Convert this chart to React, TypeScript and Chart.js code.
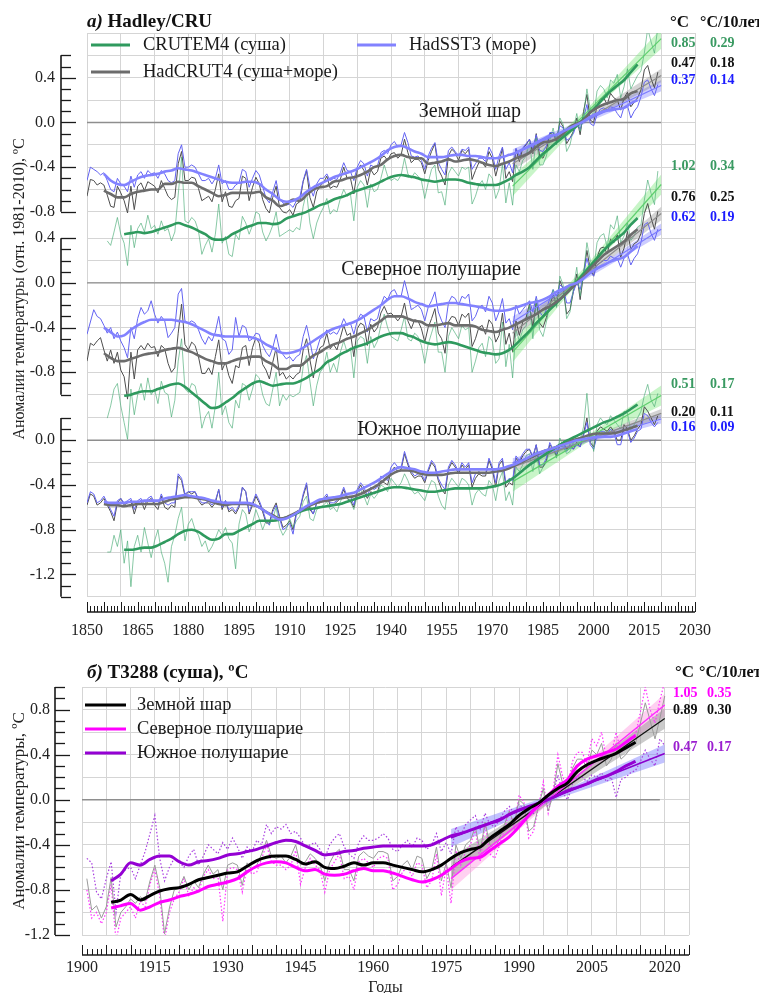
import React, { useEffect, useRef } from "react";
import { Chart, registerables } from "chart.js";

Chart.register(...registerables);

const SERIF = "'Liberation Serif', 'Times New Roman', serif";

/* ======================= DATA (hundredths of °C) ======================= */
/* a) Hadley/CRU, anomalies relative to 1981-2010 */
const HAD_START = 1850; // HadCRUT4, HadSST3 annual
const CRU_START = 1856; // CRUTEM4 annual
const SMOOTH_START = 1855; // smoothed HadCRUT4 / HadSST3
const SMOOTH_CRU_START = 1861; // smoothed CRUTEM4
const SMOOTH_STEP = 2;

const regionNamesA = ["Земной шар", "Северное полушарие", "Южное полушарие"];

// ---- Global ----
const globalHadCRUT4 = [
  -66,-51,-52,-56,-54,-56,-65,-75,-76,-57, -63,-70,-81,-57,-78,-57,-54,-61,-53,-55,
  -57,-63,-52,-59,-66,-69,-67,-37,-26,-52, -52,-49,-50,-59,-70,-68,-66,-71,-60,-46,
  -71,-62,-75,-76,-70,-68,-48,-50,-70,-58, -49,-55,-69,-77,-81,-67,-57,-76,-80,-81,
  -78,-83,-73,-71,-53,-43,-67,-76,-62,-57, -54,-48,-59,-57,-58,-51,-40,-50,-50,-64,
  -43,-38,-43,-56,-42,-47,-44,-32,-30,-34, -28,-27,-32,-29,-15,-27,-36,-33,-33,-36,
  -46,-34,-26,-19,-42,-48,-56,-30,-24,-27, -34,-25,-28,-24,-51,-43,-36,-36,-40,-26,
  -32,-48,-36,-23,-50,-44,-53,-24,-35,-23, -20,-15,-28,-10,-30,-32,-25,-10,-9,-17,
  1,-4,-19,-14,-8,4,-11,10,25,2, 0,15,21,22,16,26,22,20,11,22,
  27,14,18,22,29,47,51,39,31,45,
];
const globalHadSST3 = [
  -52,-40,-42,-44,-47,-45,-52,-60,-62,-50, -55,-57,-62,-48,-58,-47,-44,-50,-43,-46,
  -45,-50,-43,-46,-52,-54,-52,-28,-20,-40, -40,-38,-40,-46,-52,-52,-50,-55,-50,-38,
  -55,-52,-60,-60,-56,-54,-42,-44,-58,-50, -43,-47,-57,-68,-72,-62,-52,-68,-72,-74,
  -73,-76,-70,-67,-52,-42,-58,-66,-55,-50, -50,-46,-52,-50,-51,-45,-36,-43,-44,-52,
  -40,-34,-37,-48,-38,-40,-39,-27,-25,-28, -20,-17,-22,-20,-9,-18,-30,-31,-30,-34,
  -42,-30,-23,-18,-36,-42,-47,-25,-22,-26, -30,-24,-25,-22,-42,-37,-32,-32,-35,-22,
  -28,-42,-30,-22,-42,-36,-45,-23,-30,-23, -19,-15,-24,-11,-25,-26,-21,-9,-9,-15,
  -3,-5,-16,-14,-10,-1,-6,4,16,-1, -3,7,12,13,11,14,13,8,4,14,
  15,4,10,14,23,36,38,30,24,34,
];
const globalCRUTEM4 = [
  -106,-110,-98,-85,
  -100,-108,-128,-92,-112,-95,-90,-98,-83,-95, -92,-100,-88,-97,-95,-106,-98,-65,-31,-88,
  -90,-85,-88,-97,-118,-110,-104,-116,-100,-73, -108,-102,-118,-120,-100,-105,-84,-90,-100,-92,
  -80,-82,-98,-106,-100,-92,-80,-102,-100,-98, -96,-98,-94,-96,-75,-62,-90,-104,-90,-82,
  -76,-68,-82,-78,-80,-68,-60,-66,-64,-88, -58,-52,-56,-76,-55,-62,-60,-50,-38,-48,
  -52,-50,-52,-47,-32,-46,-50,-45,-48,-52, -68,-54,-42,-38,-63,-62,-74,-46,-40,-44,
  -48,-40,-42,-40,-73,-66,-56,-52,-60,-46, -50,-68,-60,-37,-72,-54,-74,-38,-44,-34,
  -30,-18,-42,-14,-38,-38,-30,-16,-5,-20, 4,-2,-26,-20,-6,8,-8,6,30,12,
  5,28,33,30,22,38,35,43,22,32, 48,30,36,42,46,62,84,72,62,85,
];
const globalHadCRUT4Smooth = [
  -61,-64,-67,-67,-64,-62,-61,-60,-60,-55, -55,-53,-54,-54,-57,-60,-63,-66,-65,-63,
  -63,-63,-63,-62,-67,-70,-75,-73,-69,-70, -65,-60,-58,-57,-53,-52,-50,-49,-47,-44,
  -40,-38,-33,-30,-29,-31,-32,-32,-37,-36, -35,-33,-35,-34,-33,-34,-36,-38,-39,-37,
  -35,-32,-30,-27,-22,-18,-17,-15,-10,-4, -1,2,9,13,16,18,20,21,26,28,
];
const globalHadSST3Smooth = [
  -46,-52,-55,-56,-53,-50,-48,-47,-46,-44, -43,-41,-42,-43,-45,-47,-49,-51,-53,-54,
  -54,-53,-53,-55,-60,-64,-69,-71,-70,-67, -62,-58,-55,-52,-49,-47,-45,-43,-40,-37,
  -34,-30,-25,-22,-21,-23,-26,-28,-31,-31, -31,-30,-29,-29,-30,-30,-31,-32,-32,-31,
  -29,-27,-24,-21,-18,-15,-12,-11,-8,-5, -2,1,5,8,10,11,12,13,17,20,
];
const globalCRUTEM4Smooth = [
  -100,-99,-98,-99,-98,-96,-94,-92,-90,-92, -94,-97,-100,-104,-105,-104,-100,-97,-94,-92,
  -90,-90,-91,-90,-86,-84,-82,-80,-77,-74, -72,-69,-67,-65,-62,-60,-58,-56,-53,-50,
  -48,-47,-48,-49,-51,-52,-53,-52,-51,-51, -52,-54,-55,-56,-56,-56,-54,-51,-47,-44,
  -40,-34,-28,-23,-18,-13,-8,-3,3,9, 15,22,28,33,38,45,52,
];

// ---- Northern Hemisphere ----
const nhHadCRUT4 = [
  -70,-54,-56,-52,-49,-60,-70,-60,-72,-62, -78,-84,-104,-62,-86,-60,-56,-60,-54,-58,
  -57,-66,-56,-59,-72,-80,-76,-45,-19,-55, -60,-53,-56,-66,-81,-81,-76,-82,-66,-51,
  -78,-71,-83,-90,-74,-76,-58,-56,-74,-58, -49,-54,-73,-78,-86,-71,-58,-83,-80,-86,
  -83,-86,-82,-80,-60,-50,-69,-85,-68,-58, -56,-45,-59,-55,-60,-49,-38,-47,-45,-66,
  -41,-36,-38,-56,-37,-44,-40,-27,-21,-28, -27,-30,-34,-30,-18,-34,-41,-33,-34,-41,
  -53,-40,-32,-23,-45,-50,-63,-35,-30,-31, -38,-28,-31,-27,-57,-50,-40,-38,-46,-33,
  -37,-53,-47,-27,-55,-45,-62,-34,-47,-35, -31,-19,-40,-16,-36,-40,-31,-20,-11,-20,
  2,-6,-28,-24,-8,8,-15,8,29,12, 6,23,31,32,26,39,36,43,23,31,
  46,30,35,37,44,62,71,58,48,64,
];
const nhHadSST3 = [
  -46,-35,-24,-30,-32,-38,-45,-40,-50,-44, -52,-58,-67,-40,-50,-32,-22,-28,-25,-16,
  -28,-36,-30,-34,-49,-45,-40,-10,-5,-34, -36,-34,-36,-42,-50,-55,-48,-52,-44,-30,
  -50,-52,-64,-60,-31,-48,-38,-40,-52,-50, -45,-46,-56,-62,-66,-58,-46,-60,-64,-68,
  -66,-70,-66,-64,-48,-38,-52,-68,-60,-50, -48,-42,-46,-44,-46,-40,-32,-38,-36,-46,
  -34,-28,-30,-44,-32,-34,-32,-20,-12,-15, -8,-6,-12,-12,2,-10,-24,-22,-20,-24,
  -34,-22,-16,-8,-26,-34,-40,-18,-12,-14, -20,-12,-14,-10,-34,-30,-22,-20,-26,-12,
  -18,-34,-26,-14,-36,-32,-42,-20,-28,-24, -20,-16,-26,-12,-26,-30,-24,-14,-6,-12,
  -2,-4,-18,-18,-8,0,-6,8,22,10, 6,16,18,20,20,24,22,22,14,22,
  26,16,22,26,36,52,54,44,38,48,
];
const nhCRUTEM4 = [
  -121,-110,-95,-90,
  -110,-125,-140,-95,-118,-100,-90,-105,-85,-100, -95,-108,-88,-98,-100,-120,-105,-70,-50,-95,
  -98,-90,-92,-105,-130,-120,-115,-130,-110,-80, -118,-110,-125,-130,-105,-112,-90,-92,-105,-95,
  -82,-85,-100,-108,-110,-95,-80,-110,-100,-105, -100,-102,-100,-98,-75,-65,-88,-110,-92,-80,
  -76,-62,-80,-72,-80,-62,-52,-62,-58,-85, -52,-48,-50,-72,-48,-58,-52,-38,-28,-40,
  -48,-50,-52,-42,-30,-50,-52,-45,-48,-56, -72,-55,-45,-35,-62,-62,-80,-48,-40,-45,
  -50,-38,-42,-40,-80,-70,-58,-54,-66,-48, -52,-72,-68,-35,-75,-55,-85,-42,-52,-42,
  -38,-20,-50,-15,-42,-48,-35,-20,-6,-22, 6,-2,-32,-26,-4,14,-12,8,36,20,
  12,36,42,44,32,52,48,60,36,42, 54,38,42,50,52,74,92,80,70,100,
];
const nhHadCRUT4Smooth = [
  -63,-67,-70,-70,-68,-66,-64,-63,-62,-60, -59,-58,-60,-62,-65,-68,-70,-72,-72,-70,
  -68,-67,-66,-66,-70,-73,-77,-77,-74,-74, -70,-65,-62,-58,-55,-53,-50,-48,-45,-42,
  -38,-34,-30,-30,-30,-32,-34,-35,-38,-38, -37,-36,-38,-38,-38,-39,-42,-43,-44,-42,
  -40,-37,-34,-31,-28,-24,-21,-17,-12,-6, 0,6,13,19,25,29,33,37,43,48,
];
const nhHadSST3Smooth = [
  -40,-44,-48,-47,-42,-38,-35,-33,-33,-33, -33,-34,-35,-37,-40,-43,-46,-47,-48,-48,
  -48,-48,-49,-51,-55,-58,-62,-63,-62,-60, -56,-52,-48,-44,-41,-39,-37,-35,-32,-28,
  -24,-20,-15,-12,-12,-14,-17,-19,-21,-20, -19,-18,-18,-19,-20,-21,-22,-24,-25,-25,
  -24,-22,-20,-18,-17,-15,-12,-8,-5,-2, 0,4,9,13,16,19,21,23,28,33,
];
const nhCRUTEM4Smooth = [
  -101,-100,-98,-97,-97,-95,-93,-91,-90,-93, -98,-103,-108,-112,-111,-107,-103,-98,-94,-90,
  -88,-90,-92,-91,-90,-90,-88,-85,-81,-77, -71,-68,-64,-61,-58,-56,-54,-51,-48,-46,
  -45,-45,-47,-49,-52,-54,-55,-54,-53,-54, -56,-58,-60,-62,-63,-64,-63,-60,-55,-49,
  -43,-36,-30,-24,-18,-12,-6,1,8,15, 22,29,35,40,45,52,58,
];

// ---- Southern Hemisphere ----
const shHadCRUT4 = [
  -58,-48,-50,-58,-56,-52,-58,-64,-72,-56, -52,-58,-56,-54,-66,-56,-54,-62,-54,-52,
  -58,-62,-50,-60,-62,-58,-60,-32,-36,-50, -46,-48,-46,-54,-58,-56,-56,-60,-56,-44,
  -62,-54,-64,-62,-66,-60,-42,-46,-66,-58, -50,-56,-64,-74,-74,-62,-56,-68,-78,-76,
  -72,-80,-64,-62,-50,-40,-62,-66,-56,-56, -54,-50,-58,-58,-55,-52,-44,-52,-54,-60,
  -46,-40,-46,-52,-46,-48,-46,-36,-38,-40, -28,-24,-28,-26,-12,-22,-30,-34,-32,-32,
  -38,-28,-20,-24,-36,-44,-48,-26,-20,-24, -30,-22,-26,-22,-42,-34,-30,-32,-32,-18,
  -26,-42,-22,-18,-42,-38,-40,-16,-20,-14, -10,-8,-16,-4,-24,-24,-18,-4,-8,-14,
  -4,-2,-8,-4,-8,-2,-6,6,20,-2, -6,8,12,10,8,12,8,0,0,14,
  10,0,4,10,14,30,26,20,14,22,
];
const shHadSST3 = [
  -56,-46,-48,-56,-54,-50,-56,-62,-68,-54, -52,-56,-54,-52,-62,-54,-52,-58,-52,-50,
  -56,-58,-48,-56,-58,-56,-56,-30,-34,-48, -46,-46,-46,-52,-56,-56,-54,-58,-54,-44,
  -60,-54,-62,-60,-64,-58,-42,-46,-64,-56, -48,-54,-62,-72,-76,-64,-58,-70,-80,-78,
  -74,-84,-66,-62,-48,-38,-60,-66,-56,-54, -52,-48,-56,-56,-54,-50,-42,-50,-50,-58,
  -44,-38,-42,-50,-42,-44,-42,-32,-34,-36, -24,-20,-24,-24,-10,-20,-28,-32,-30,-30,
  -36,-26,-18,-22,-34,-40,-44,-24,-18,-22, -28,-20,-24,-20,-38,-30,-28,-30,-30,-16,
  -24,-38,-20,-16,-38,-34,-36,-14,-18,-12, -8,-8,-14,-4,-22,-22,-16,-2,-8,-12,
  -4,-2,-10,-6,-8,-4,-6,4,16,-4, -8,4,8,8,6,10,6,-4,-4,10,
  8,-2,2,8,10,24,22,16,12,16,
];
const shCRUTEM4 = [
  -100,-100,-85,-95,
  -80,-110,-90,-131,-95,-85,-100,-78,-92,-105, -90,-80,-100,-110,-127,-95,-85,-70,-60,-90,
  -75,-70,-80,-85,-95,-90,-100,-95,-88,-80, -85,-78,-88,-92,-115,-75,-62,-66,-82,-74,
  -62,-70,-80,-72,-75,-70,-60,-78,-85,-80, -70,-78,-72,-68,-55,-50,-70,-72,-62,-60,
  -58,-55,-62,-60,-64,-55,-48,-52,-55,-62, -50,-44,-50,-58,-48,-52,-48,-40,-42,-46,
  -34,-38,-42,-38,-30,-36,-44,-48,-46,-50, -54,-44,-36,-38,-50,-58,-62,-40,-34,-38,
  -42,-34,-36,-40,-58,-48,-44,-48,-50,-36, -40,-54,-36,-28,-54,-46,-58,-24,-28,-22,
  -14,-12,-28,-10,-30,-24,-20,-8,-6,-16, 2,-6,-12,-10,-2,4,0,12,42,8,
  -10,14,20,16,14,22,18,14,10,26, 24,8,14,20,26,40,50,36,30,42,
];
const shHadCRUT4Smooth = [
  -57,-58,-58,-59,-58,-57,-57,-57,-57,-55, -53,-52,-51,-51,-52,-53,-55,-57,-58,-57,
  -57,-57,-58,-60,-64,-67,-70,-69,-66,-63, -60,-57,-55,-54,-53,-52,-51,-50,-48,-45,
  -42,-38,-33,-29,-27,-27,-28,-30,-31,-31, -31,-30,-29,-29,-29,-29,-29,-29,-28,-27,
  -25,-22,-19,-16,-13,-10,-8,-6,-4,-1, 1,3,5,6,6,6,7,9,11,13,
];
const shHadSST3Smooth = [
  -55,-56,-56,-56,-55,-55,-54,-54,-54,-52, -51,-50,-49,-50,-51,-52,-54,-55,-56,-56,
  -56,-56,-57,-60,-64,-68,-71,-70,-67,-63, -59,-56,-53,-52,-51,-50,-48,-47,-44,-41,
  -38,-34,-30,-26,-24,-25,-26,-28,-29,-29, -28,-27,-26,-26,-26,-26,-26,-26,-26,-25,
  -23,-21,-18,-15,-12,-10,-8,-6,-4,-2, 0,1,2,3,3,3,4,6,8,10,
];
const shCRUTEM4Smooth = [
  -98,-98,-97,-96,-96,-94,-91,-88,-84,-81, -80,-82,-86,-89,-88,-84,-84,-81,-78,-75,
  -72,-72,-72,-71,-69,-67,-64,-62,-61,-60, -59,-58,-57,-55,-53,-51,-49,-47,-45,-43,
  -42,-42,-43,-44,-45,-46,-46,-45,-44,-43, -43,-43,-43,-43,-42,-41,-39,-36,-32,-27,
  -22,-18,-14,-10,-6,-2,1,4,7,10, 13,16,18,21,24,28,32,
];

// ---- Linear trends 1976-2020 (line ends) and their confidence bands (1976, 1998, 2020) ----
const TREND_YEARS = [1976, 2020];
const BAND_YEARS = [1976, 1998, 2020];
const gCruTrend = [-57, 75]; const gCruLow = [-66, 6, 66]; const gCruHigh = [-48, 12, 84];
const gHadTrend = [-37, 42]; const gHadLow = [-43, 1, 36]; const gHadHigh = [-31, 5, 48];
const gSstTrend = [-29, 33]; const gSstLow = [-34, 0, 28]; const gSstHigh = [-24, 4, 38];
const nCruTrend = [-62, 88]; const nCruLow = [-71, 10, 79]; const nCruHigh = [-53, 16, 97];
const nHadTrend = [-45, 62]; const nHadLow = [-51, 6, 56]; const nHadHigh = [-39, 10, 68];
const nSstTrend = [-35, 48]; const nSstLow = [-40, 4, 43]; const nSstHigh = [-30, 8, 53];
const sCruTrend = [-37, 40]; const sCruLow = [-46, -2, 31]; const sCruHigh = [-28, 4, 49];
const sHadTrend = [-24, 24]; const sHadLow = [-28, -2, 20]; const sHadHigh = [-20, 2, 28];
const sSstTrend = [-20, 19]; const sSstLow = [-24, -2, 15]; const sSstHigh = [-16, 2, 23];

// right-hand table: [CRUTEM4, HadCRUT4, HadSST3] per region
const changeA = [["0.85", "0.47", "0.37"], ["1.02", "0.76", "0.62"], ["0.51", "0.20", "0.16"]];
const rateA = [["0.29", "0.18", "0.14"], ["0.34", "0.25", "0.19"], ["0.17", "0.11", "0.09"]];

/* b) T3288 (land) */
const T_START = 1901;
const T_SMOOTH_START = 1906;
const tGlobal = [
  -70,-98,-94,-105,-95,-69,-113,-100,-95,-88, -92,-86,-90,-72,-58,-78,-119,-96,-80,-78,
  -68,-80,-72,-78,-66,-58,-66,-62,-80,-58, -56,-58,-76,-56,-62,-58,-48,-36,-50,-52,
  -50,-56,-50,-40,-58,-55,-48,-52,-58,-72, -56,-48,-44,-62,-62,-72,-50,-46,-50,-52,
  -46,-46,-48,-72,-68,-58,-54,-62,-50,-52, -70,-62,-42,-72,-56,-78,-40,-52,-40,-36,
  -24,-46,-20,-40,-44,-34,-22,-10,-22,0, -4,-28,-24,-6,10,-10,4,32,14,6,
  28,36,36,28,44,40,50,30,36,50, 36,40,46,50,68,86,70,54,72,92,
];
const tNorth = [
  -80,-105,-100,-110,-100,-75,-125,-105,-100,-95, -105,-90,-95,-75,-62,-85,-125,-100,-88,-82,
  -70,-85,-78,-82,-68,-62,-70,-68,-108,-62, -60,-62,-82,-60,-66,-64,-52,-40,-55,-58,
  -58,-62,-58,-45,-75,-60,-52,-58,-62,-82, -62,-55,-48,-70,-68,-80,-55,-52,-56,-60,
  -52,-50,-52,-80,-75,-64,-60,-68,-56,-58, -78,-72,-48,-85,-60,-92,-45,-58,-46,-40,
  -26,-55,-22,-48,-52,-40,-26,-10,-25,4, -2,-34,-28,-6,16,-12,8,40,20,12,
  34,42,42,32,54,48,60,36,40,60, 42,48,54,58,78,100,80,68,88,105,
];
const tSouth = [
  -52,-56,-82,-88,-70,-55,-100,-65,-62,-60, -70,-58,-46,-30,-14,-52,-72,-60,-52,-55,
  -60,-50,-44,-58,-50,-40,-44,-48,-38,-44, -34,-42,-52,-42,-46,-36,-40,-22,-30,-24,
  -26,-22,-30,-28,-34,-42,-40,-38,-44,-52, -40,-34,-30,-42,-48,-52,-38,-32,-36,-36,
  -34,-30,-34,-44,-46,-40,-36,-42,-34,-36, -44,-40,-30,-46,-38,-48,-24,-32,-22,-18,
  -14,-26,-12,-22,-24,-18,-10,-6,-12,-4, -8,-14,-12,-4,2,-6,4,22,6,0,
  14,20,20,16,22,20,24,16,20,2, 18,20,24,26,34,44,36,30,54,48,
];
const tGlobalSmooth = [
  -91,-89,-84,-89,-85,-81,-79,-78,-75,-71, -69,-67,-65,-64,-59,-54,-51,-50,-50,-53,
  -57,-55,-60,-61,-59,-56,-58,-56,-56,-58, -60,-62,-64,-62,-58,-52,-47,-44,-42,-34,
  -28,-22,-14,-8,-3,4,10,15,25,31, 35,38,41,46,51,
];
const tNorthSmooth = [
  -96,-94,-92,-98,-95,-91,-89,-86,-84,-81, -77,-75,-73,-70,-64,-59,-56,-55,-56,-60,
  -63,-62,-66,-67,-66,-63,-61,-63,-63,-65, -68,-71,-73,-71,-67,-61,-55,-52,-51,-45,
  -39,-33,-24,-14,-4,4,12,18,30,36, 39,42,45,51,57,
];
const tSouthSmooth = [
  -72,-66,-56,-58,-53,-50,-50,-55,-58,-55, -54,-52,-49,-48,-46,-44,-41,-38,-36,-37,
  -41,-45,-49,-48,-46,-45,-43,-42,-41,-41, -41,-41,-41,-40,-36,-32,-30,-27,-24,-21,
  -18,-13,-9,-6,-3,0,4,8,11,14, 18,21,25,30,34,
];
const tNorthTrend = [-70, 84]; const tNorthLow = [-80, 4, 74]; const tNorthHigh = [-60, 10, 94];
const tGlobalTrend = [-60, 72]; const tGlobalLow = [-69, 3, 63]; const tGlobalHigh = [-51, 9, 81];
const tSouthTrend = [-34, 41]; const tSouthLow = [-42, 1, 33]; const tSouthHigh = [-26, 6, 49];
const changeB = ["1.05", "0.89", "0.47"]; // NH, Global, SH
const rateB = ["0.35", "0.30", "0.17"];

/* ======================= helpers ======================= */
const GRID = "#d5d5d5";
const OFFSETS_A = [0, -1.435, -2.843];

const seq = (start: number, step: number, vals: number[], off: number) =>
  vals.map((v, i) => ({ x: start + i * step, y: v / 100 + off }));
const at = (years: number[], vals: number[], off: number) =>
  years.map((x, i) => ({ x, y: vals[i] / 100 + off }));
const fmt = (v: number) => (Math.round(v * 10) / 10 + 0).toFixed(1).replace("-0.0", "0.0");

function lineDs(data: any[], color: string, width: number, order: number, extra: any = {}) {
  return {
    data, borderColor: color, backgroundColor: color, borderWidth: width, pointRadius: 0,
    pointHoverRadius: 0, fill: false, tension: 0, order, ...extra,
  };
}
function bandDs(out: any[], low: number[], high: number[], off: number, color: string) {
  out.push(lineDs(at(BAND_YEARS, low, off), "rgba(0,0,0,0)", 0, 4));
  out.push(lineDs(at(BAND_YEARS, high, off), "rgba(0,0,0,0)", 0, 4, { fill: "-1", backgroundColor: color }));
}

function txt(ctx: any, s: string, x: number, y: number, font: string, color = "#111", align = "left") {
  ctx.font = font; ctx.fillStyle = color; ctx.textAlign = align; ctx.textBaseline = "middle";
  ctx.fillText(s, x, y);
}
function vtxt(ctx: any, s: string, x: number, y: number, font: string, color = "#222") {
  ctx.save();
  ctx.translate(x, y); ctx.rotate(-Math.PI / 2);
  txt(ctx, s, 0, 0, font, color, "center");
  ctx.restore();
}
function drawYAxis(chart: any, axisX: number, segs: { top: number; bottom: number; off: number }[]) {
  const { ctx } = chart; const ys = chart.scales.y;
  ctx.strokeStyle = "#1a1a1a";
  segs.forEach((s) => {
    ctx.lineWidth = 1.6;
    ctx.beginPath();
    ctx.moveTo(axisX, ys.getPixelForValue(s.top + s.off));
    ctx.lineTo(axisX, ys.getPixelForValue(s.bottom + s.off));
    ctx.stroke();
    const n = Math.round((s.top - s.bottom) * 10);
    ctx.lineWidth = 1.3;
    for (let i = 0; i <= n; i++) {
      const v = Math.round((s.top - i / 10) * 10);
      const p = Math.round(ys.getPixelForValue(v / 10 + s.off)) + 0.5;
      const len = Math.abs(v) % 4 === 0 ? 15 : 10;
      ctx.beginPath(); ctx.moveTo(axisX, p); ctx.lineTo(axisX + len, p); ctx.stroke();
    }
  });
}
function drawXAxis(chart: any, baseY: number, from: number, to: number) {
  const { ctx } = chart; const xs = chart.scales.x;
  ctx.strokeStyle = "#1a1a1a"; ctx.lineWidth = 1.6;
  ctx.beginPath(); ctx.moveTo(xs.getPixelForValue(from), baseY); ctx.lineTo(xs.getPixelForValue(to), baseY); ctx.stroke();
  ctx.lineWidth = 1;
  for (let yr = from; yr <= to; yr++) {
    const p = Math.round(xs.getPixelForValue(yr)) + 0.5;
    const len = yr % 5 === 0 ? 10 : 6;
    ctx.beginPath(); ctx.moveTo(p, baseY); ctx.lineTo(p, baseY - len); ctx.stroke();
  }
}
const noPadY = (w: number) => (s: any) => { s.width = w; s.paddingTop = 0; s.paddingBottom = 0; };
const noPadX = (h: number) => (s: any) => { s.height = h; s.paddingLeft = 0; s.paddingRight = 0; };

/* ======================= chart a) ======================= */
const C_CRU = "#2f9a5e", C_CRU_THIN = "rgba(70,170,115,0.8)", C_CRU_BAND = "rgba(110,230,110,0.38)", C_CRU_TR = "rgba(90,205,105,0.95)";
const C_HAD = "#6c6c6c", C_HAD_THIN = "#4d4d4d", C_HAD_BAND = "rgba(120,120,120,0.32)", C_HAD_TR = "#8c8c8c";
const C_SST = "#8282ff", C_SST_THIN = "#6363f2", C_SST_BAND = "rgba(110,110,255,0.35)", C_SST_TR = "#7b7bff";

function configA() {
  const regions = [
    { had: globalHadCRUT4, sst: globalHadSST3, cru: globalCRUTEM4, hadS: globalHadCRUT4Smooth, sstS: globalHadSST3Smooth, cruS: globalCRUTEM4Smooth,
      tr: [[gCruTrend, gCruLow, gCruHigh], [gHadTrend, gHadLow, gHadHigh], [gSstTrend, gSstLow, gSstHigh]] },
    { had: nhHadCRUT4, sst: nhHadSST3, cru: nhCRUTEM4, hadS: nhHadCRUT4Smooth, sstS: nhHadSST3Smooth, cruS: nhCRUTEM4Smooth,
      tr: [[nCruTrend, nCruLow, nCruHigh], [nHadTrend, nHadLow, nHadHigh], [nSstTrend, nSstLow, nSstHigh]] },
    { had: shHadCRUT4, sst: shHadSST3, cru: shCRUTEM4, hadS: shHadCRUT4Smooth, sstS: shHadSST3Smooth, cruS: shCRUTEM4Smooth,
      tr: [[sCruTrend, sCruLow, sCruHigh], [sHadTrend, sHadLow, sHadHigh], [sSstTrend, sSstLow, sSstHigh]] },
  ];
  const ds: any[] = [];
  const bandCols = [C_CRU_BAND, C_HAD_BAND, C_SST_BAND];
  const trCols = [C_CRU_TR, C_HAD_TR, C_SST_TR];
  regions.forEach((r, k) => {
    const off = OFFSETS_A[k];
    ds.push(lineDs(at([1850, 2020], [0, 0], off), "#8e8e8e", 1.4, 5));
    r.tr.forEach((t, j) => bandDs(ds, t[1], t[2], off, bandCols[j]));
    ds.push(lineDs(seq(CRU_START, 1, r.cru, off), C_CRU_THIN, 0.8, 3));
    ds.push(lineDs(seq(HAD_START, 1, r.sst, off), C_SST_THIN, 1, 3));
    ds.push(lineDs(seq(HAD_START, 1, r.had, off), C_HAD_THIN, 1, 3));
    r.tr.forEach((t, j) => ds.push(lineDs(at(TREND_YEARS, t[0], off), trCols[j], 1.2, 2)));
    const sm = { cubicInterpolationMode: "monotone" };
    ds.push(lineDs(seq(SMOOTH_START, SMOOTH_STEP, r.sstS, off), C_SST, 2.6, 1, sm));
    ds.push(lineDs(seq(SMOOTH_START, SMOOTH_STEP, r.hadS, off), C_HAD, 2.6, 1, sm));
    ds.push(lineDs(seq(SMOOTH_CRU_START, SMOOTH_STEP, r.cruS, off), C_CRU, 2.6, 1, sm));
  });

  const axisSegs = [
    { top: 0.6, bottom: -0.8, off: OFFSETS_A[0] },
    { top: 0.4, bottom: -1.0, off: OFFSETS_A[1] },
    { top: 0.2, bottom: -1.4, off: OFFSETS_A[2] },
  ];
  const gridSegs = [{ top: 0.8, bottom: -0.8 }, { top: 0.4, bottom: -1.0 }, { top: 0.2, bottom: -1.4 }];
  const yTicks: { value: number; label: string }[] = [];
  gridSegs.forEach((g, k) => {
    const s = axisSegs[k];
    const n = Math.round((g.top - g.bottom) / 0.2);
    for (let i = 0; i <= n; i++) {
      const v10 = Math.round((g.top - i * 0.2) * 10);
      const labeled = Math.abs(v10) % 4 === 0 && v10 <= Math.round(s.top * 10) && v10 >= Math.round(s.bottom * 10);
      yTicks.push({ value: v10 / 10 + s.off, label: labeled ? fmt(v10 / 10) : "" });
    }
  });
  yTicks.sort((a, b) => a.value - b.value);
  const xTicks: { value: number; label: string; grid: boolean }[] = [];
  for (let yr = 1850; yr <= 2030; yr += 5) {
    const grid = yr % 10 === 0; const lab = (yr - 1850) % 15 === 0;
    if (grid || lab) xTicks.push({ value: yr, label: lab ? String(yr) : "", grid });
  }

  const decor = {
    id: "decorA",
    afterDraw(chart: any) {
      const { ctx } = chart;
      ctx.save();
      drawYAxis(chart, 61, axisSegs);
      drawXAxis(chart, 612, 1850, 2030);
      vtxt(ctx, "Аномалии температуры (отн. 1981-2010), ºC", 20, 289, `16px ${SERIF}`);
      // title
      txt(ctx, "a)", 87, 22, `italic bold 19px ${SERIF}`);
      const w = ctx.measureText("a) ").width;
      txt(ctx, "Hadley/CRU", 87 + w, 22, `bold 19px ${SERIF}`);
      // legend
      const leg = [
        { x: 91, y: 45, c: C_CRU, t: "CRUTEM4 (суша)" },
        { x: 91, y: 72, c: C_HAD, t: "HadCRUT4 (суша+море)" },
        { x: 357, y: 45, c: C_SST, t: "HadSST3 (море)" },
      ];
      leg.forEach((l) => {
        ctx.strokeStyle = l.c; ctx.lineWidth = 3;
        ctx.beginPath(); ctx.moveTo(l.x, l.y); ctx.lineTo(l.x + 39, l.y); ctx.stroke();
        txt(ctx, l.t, l.x + 52, l.y, `18.5px ${SERIF}`, "#1a1a1a");
      });
      // region names
      const nameY = [112, 270, 430];
      regionNamesA.forEach((n, k) => txt(ctx, n, 521, nameY[k], `20px ${SERIF}`, "#1a1a1a", "right"));
      // right table
      txt(ctx, "°C", 670, 23, `bold 17px ${SERIF}`, "#111");
      txt(ctx, "°C/10лет", 700, 23, `bold 16px ${SERIF}`, "#111");
      const rows = [[43, 63, 80], [166, 197, 217], [384, 412, 427]];
      const cols = ["#3a9a62", "#111111", "#1c1cff"];
      rows.forEach((ry, k) => ry.forEach((y, j) => {
        txt(ctx, changeA[k][j], 671, y, `bold 14px ${SERIF}`, cols[j]);
        txt(ctx, rateA[k][j], 710, y, `bold 14px ${SERIF}`, cols[j]);
      }));
      ctx.restore();
    },
  };

  return {
    type: "line",
    data: { datasets: ds },
    options: {
      animation: false, responsive: false, devicePixelRatio: 1, events: [],
      layout: { padding: { left: 0, right: 64, top: 33, bottom: 0 } },
      plugins: { legend: { display: false }, tooltip: { enabled: false }, title: { display: false } },
      scales: {
        x: {
          type: "linear", min: 1850, max: 2030,
          afterBuildTicks: (s: any) => { s.ticks = xTicks.map((t) => ({ value: t.value })); },
          afterFit: noPadX(53),
          ticks: { autoSkip: false, maxRotation: 0, minRotation: 0, padding: 24, color: "#222", font: { family: SERIF, size: 16 },
            callback: (_v: any, i: number) => (xTicks[i] ? xTicks[i].label : "") },
          grid: { drawTicks: false, lineWidth: 1, color: (c: any) => (xTicks[c.index] && xTicks[c.index].grid ? GRID : "rgba(0,0,0,0)") },
          border: { display: false },
        },
        y: {
          type: "linear", min: -4.245, max: 0.8,
          afterBuildTicks: (s: any) => { s.ticks = yTicks.map((t) => ({ value: t.value })); },
          afterFit: noPadY(87),
          ticks: { autoSkip: false, padding: 32, color: "#222", font: { family: SERIF, size: 16 },
            callback: (_v: any, i: number) => (yTicks[i] ? yTicks[i].label : "") },
          grid: { drawTicks: false, lineWidth: 1, color: GRID },
          border: { display: false },
        },
      },
    },
    plugins: [decor],
  };
}

/* ======================= chart b) ======================= */
const C_T_G = "#000000", C_T_G_THIN = "#9a9a9a", C_T_G_BAND = "rgba(140,140,140,0.45)";
const C_T_N = "#ff00ff", C_T_N_THIN = "#ff33ff", C_T_N_BAND = "rgba(255,150,225,0.45)";
const C_T_S = "#9400d3", C_T_S_THIN = "#a83ee0", C_T_S_BAND = "rgba(120,120,255,0.45)";

function configB() {
  const ds: any[] = [];
  ds.push(lineDs(at([1900, 2019], [0, 0], 0), "#8e8e8e", 1.4, 5));
  bandDs(ds, tSouthLow, tSouthHigh, 0, C_T_S_BAND);
  bandDs(ds, tGlobalLow, tGlobalHigh, 0, C_T_G_BAND);
  bandDs(ds, tNorthLow, tNorthHigh, 0, C_T_N_BAND);
  ds.push(lineDs(seq(T_START, 1, tGlobal, 0), C_T_G_THIN, 1, 3));
  ds.push(lineDs(seq(T_START, 1, tNorth, 0), C_T_N_THIN, 1.2, 3, { borderDash: [1.5, 2] }));
  ds.push(lineDs(seq(T_START, 1, tSouth, 0), C_T_S_THIN, 1.2, 3, { borderDash: [1.5, 2] }));
  ds.push(lineDs(at(TREND_YEARS, tNorthTrend, 0), "#ff2cff", 1.5, 2));
  ds.push(lineDs(at(TREND_YEARS, tGlobalTrend, 0), "#111", 1.3, 2));
  ds.push(lineDs(at(TREND_YEARS, tSouthTrend, 0), "#8a00cc", 1.5, 2));
  const sm = { cubicInterpolationMode: "monotone" };
  ds.push(lineDs(seq(T_SMOOTH_START, 2, tGlobalSmooth, 0), C_T_G, 3, 1, sm));
  ds.push(lineDs(seq(T_SMOOTH_START, 2, tNorthSmooth, 0), C_T_N, 3, 1, sm));
  ds.push(lineDs(seq(T_SMOOTH_START, 2, tSouthSmooth, 0), C_T_S, 3, 1, sm));

  const yTicks: { value: number; label: string }[] = [];
  for (let v10 = -12; v10 <= 10; v10 += 2) yTicks.push({ value: v10 / 10, label: Math.abs(v10) % 4 === 0 ? fmt(v10 / 10) : "" });
  const xTicks: { value: number; label: string }[] = [];
  for (let yr = 1900; yr <= 2025; yr += 5) xTicks.push({ value: yr, label: (yr - 1900) % 15 === 0 ? String(yr) : "" });

  const decor = {
    id: "decorB",
    afterDraw(chart: any) {
      const { ctx } = chart;
      ctx.save();
      drawYAxis(chart, 55, [{ top: 1.0, bottom: -1.2, off: 0 }]);
      drawXAxis(chart, 305, 1900, 2025);
      vtxt(ctx, "Аномалии температуры, ºC", 20, 161, `17px ${SERIF}`);
      txt(ctx, "б)", 87, 23, `italic bold 19px ${SERIF}`);
      const w = ctx.measureText("б) ").width;
      txt(ctx, "T3288 (суша), ºC", 87 + w, 23, `bold 19px ${SERIF}`);
      const leg = [
        { y: 55, c: C_T_G, t: "Земной шар" },
        { y: 79, c: C_T_N, t: "Северное полушарие" },
        { y: 103, c: C_T_S, t: "Южное полушарие" },
      ];
      leg.forEach((l) => {
        ctx.strokeStyle = l.c; ctx.lineWidth = 3;
        ctx.beginPath(); ctx.moveTo(85, l.y); ctx.lineTo(126, l.y); ctx.stroke();
        txt(ctx, l.t, 137, l.y, `18.5px ${SERIF}`, "#1a1a1a");
      });
      txt(ctx, "°C", 675, 23, `bold 17px ${SERIF}`, "#111");
      txt(ctx, "°C/10лет", 699, 23, `bold 16px ${SERIF}`, "#111");
      const ys = [43, 60, 97];
      const cols = ["#ff00ff", "#111111", "#9b1fd0"];
      ys.forEach((y, j) => {
        txt(ctx, changeB[j], 673, y, `bold 14px ${SERIF}`, cols[j]);
        txt(ctx, rateB[j], 707, y, `bold 14px ${SERIF}`, cols[j]);
      });
      ctx.restore();
    },
  };

  return {
    type: "line",
    data: { datasets: ds },
    options: {
      animation: false, responsive: false, devicePixelRatio: 1, events: [],
      layout: { padding: { left: 0, right: 70, top: 37, bottom: 0 } },
      plugins: { legend: { display: false }, tooltip: { enabled: false }, title: { display: false } },
      scales: {
        x: {
          type: "linear", min: 1900, max: 2025,
          afterBuildTicks: (s: any) => { s.ticks = xTicks.map((t) => ({ value: t.value })); },
          afterFit: noPadX(65),
          ticks: { autoSkip: false, maxRotation: 0, minRotation: 0, padding: 23, color: "#222", font: { family: SERIF, size: 16 },
            callback: (_v: any, i: number) => (xTicks[i] ? xTicks[i].label : "") },
          grid: { drawTicks: false, lineWidth: 1, color: GRID },
          border: { display: false },
          title: { display: true, text: "Годы", color: "#222", font: { family: SERIF, size: 16 }, padding: { top: 0, bottom: 3 } },
        },
        y: {
          type: "linear", min: -1.2, max: 1.0,
          afterBuildTicks: (s: any) => { s.ticks = yTicks.map((t) => ({ value: t.value })); },
          afterFit: noPadY(82),
          ticks: { autoSkip: false, padding: 32, color: "#222", font: { family: SERIF, size: 16 },
            callback: (_v: any, i: number) => (yTicks[i] ? yTicks[i].label : "") },
          grid: { drawTicks: false, lineWidth: 1, color: GRID },
          border: { display: false },
        },
      },
    },
    plugins: [decor],
  };
}

export default function App() {
  const refA = useRef<HTMLCanvasElement>(null);
  const refB = useRef<HTMLCanvasElement>(null);
  useEffect(() => {
    const a = new Chart(refA.current as any, configA() as any);
    const b = new Chart(refB.current as any, configB() as any);
    return () => { a.destroy(); b.destroy(); };
  }, []);
  return (
    <div style={{ position: "absolute", left: 0, top: 0, width: 759, height: 993, overflow: "hidden", background: "#fff" }}>
      <canvas ref={refA} width={759} height={650} style={{ position: "absolute", left: 0, top: 0, width: 759, height: 650 }} />
      <canvas ref={refB} width={759} height={350} style={{ position: "absolute", left: 0, top: 650, width: 759, height: 350 }} />
    </div>
  );
}
